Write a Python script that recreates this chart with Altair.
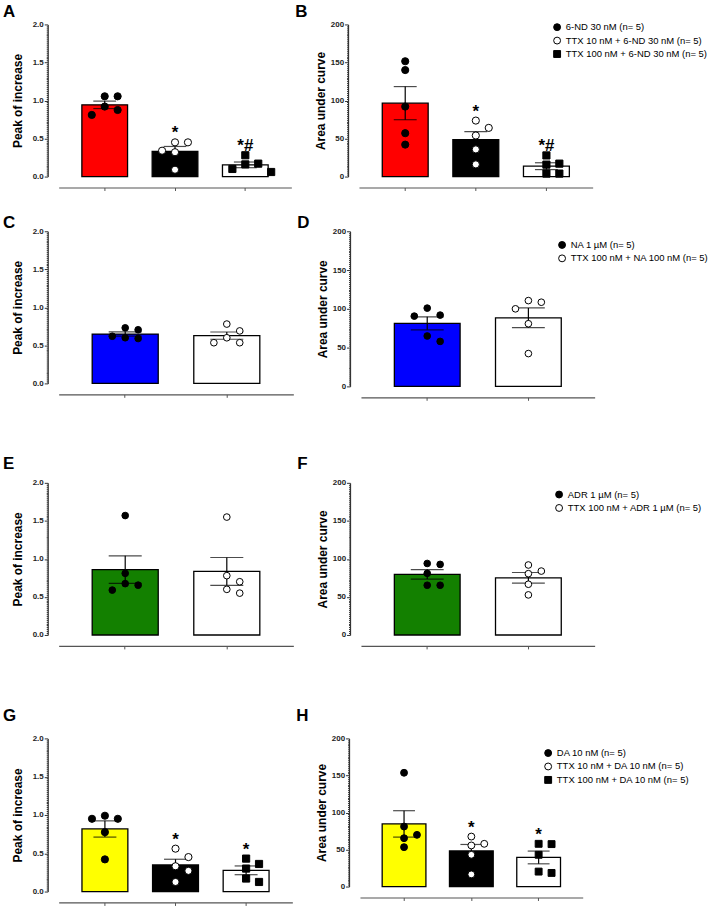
import json
import numpy as np
import pandas as pd
import altair as alt

FONT = "Liberation Sans"

# ---------------- data ----------------
nd_groups = ["6-ND 30 nM (n= 5)", "TTX 10 nM + 6-ND 30 nM (n= 5)", "TTX 100 nM + 6-ND 30 nM (n= 5)"]
nd_peak = [[1.055, 1.055, 0.92, 0.875, 0.81], [0.45, 0.45, 0.34, 0.32, 0.09], [0.28, 0.17, 0.16, 0.10, 0.06]]
nd_auc = [[151.6, 140.0, 92.0, 57.0, 42.0], [73.6, 64.0, 54.0, 35.7, 16.0], [27.8, 15.7, 17.0, 3.9, 3.9]]
nd_sig = ["", "*", "*#"]

na_groups = ["NA 1 µM (n= 5)", "TTX 100 nM + NA 100 nM (n= 5)"]
na_peak = [[0.73, 0.705, 0.62, 0.60, 0.59], [0.78, 0.69, 0.60, 0.535, 0.535]]
na_auc = [[100.9, 91.9, 90.6, 65.0, 58.0], [110.6, 108.5, 100.0, 80.8, 42.3]]
na_sig = ["", ""]

adr_groups = ["ADR 1 µM  (n= 5)", "TTX 100 nM + ADR 1 µM (n= 5)"]
adr_peak = [[1.57, 0.81, 0.675, 0.655, 0.59], [1.55, 0.78, 0.70, 0.60, 0.55]]
adr_auc = [[94.0, 92.8, 81.0, 65.4, 65.4], [92.0, 84.0, 80.6, 66.7, 52.7]]
adr_sig = ["", ""]

da_groups = ["DA 10 nM (n= 5)", "TTX 10 nM + DA 10 nM (n= 5)", "TTX 100 nM + DA 10 nM (n= 5)"]
da_peak = [[0.99, 0.95, 0.95, 0.775, 0.42], [0.56, 0.45, 0.33, 0.27, 0.125], [0.43, 0.36, 0.30, 0.17, 0.125]]
da_auc = [[153.6, 81.0, 69.8, 65.3, 53.2], [67.5, 57.7, 55.5, 42.9, 16.4], [57.7, 57.3, 42.9, 20.2, 18.4]]
da_sig = ["", "*", "*"]

peak_ticks = [0.0, 0.5, 1.0, 1.5, 2.0]
auc_ticks = [0, 50, 100, 150, 200]
peak_title = "Peak of increase"
auc_title = "Area under curve"

# ---------------- styles ----------------
BAR_RED = ["#ff0000", "#000000", "#ffffff"]
BAR_BLUE = ["#0000ff", "#ffffff"]
BAR_GREEN = ["#138000", "#ffffff"]
BAR_YELLOW = ["#ffff00", "#000000", "#ffffff"]
PT_FILL3 = ["black", "white", "black"]
PT_SHAPE3 = ["circle", "circle", "square"]
PT_FILL2 = ["black", "white"]
PT_SHAPE2 = ["circle", "circle"]
AXC = "#333333"


def swarm(vals, px_per_unit, thr=8.5):
    order = sorted(range(len(vals)), key=lambda i: -vals[i])
    placed = []
    slots = [0] * len(vals)
    for i in order:
        y = vals[i] * px_per_unit
        chosen = 0
        for s in [0, 1, -1, 2, -2, 3, -3]:
            if all(not (ps == s and abs(py - y) < thr) for ps, py in placed):
                chosen = s
                break
        placed.append((chosen, y))
        slots[i] = chosen
    return slots


def panel(letter, groups, series, sig, bar_fill, pt_fill, pt_shape, kind, w, h,
          title_dx, title_offset, pt_size, legend_xy=None, step=13):
    peak = kind == "peak"
    ticks = peak_ticks if peak else auc_ticks
    ymax = ticks[-1]
    minor = [i / 40 for i in range(81)] if peak else [i * 2.5 for i in range(81)]
    fmt = ".1f" if peak else "d"
    test = f"indexof({json.dumps(ticks)}, datum.value) >= 0"
    ppu = h / ymax

    rows, summ = [], []
    for g, vals, s, bf in zip(groups, series, sig, bar_fill):
        sl = swarm(vals, ppu)
        for v, k in zip(vals, sl):
            rows.append({"group": g, "value": v, "slot": k})
        arr = np.array(vals)
        m = float(arr.mean())
        se = float(arr.std(ddof=1) / np.sqrt(len(arr)))
        summ.append({"group": g, "mean": m, "lo": m - se, "hi": m + se,
                     "top": float(arr.max()), "sig": s, "barfill": bf})
    pts = pd.DataFrame(rows)
    sm = pd.DataFrame(summ)

    xaxis = alt.Axis(labels=False, title=None, ticks=True, tickSize=3, offset=11,
                     domainColor="#555555", domainWidth=1.2, tickColor="#555555",
                     tickWidth=1, grid=False)
    xenc = alt.X("group:N", sort=groups, title=None,
                 scale=alt.Scale(domain=groups, paddingInner=0.35, paddingOuter=0.33),
                 axis=xaxis)
    yaxis = alt.Axis(values=minor, labelOverlap=False, grid=False, offset=11,
                     labelExpr=f"{test} ? format(datum.value, '{fmt}') : ''",
                     tickSize={"condition": {"test": test, "value": 3.5}, "value": 1.5},
                     tickColor=AXC, domainColor=AXC, domainWidth=1.2, tickWidth=1,
                     labelFont=FONT, labelFontSize=8, labelFontWeight="bold",
                     labelColor="#222222", labelPadding=1,
                     title=peak_title if peak else auc_title, titleFont=FONT,
                     titleFontSize=12, titleFontWeight="bold", titleColor="black",
                     titlePadding=8 if peak else 3)
    yscale = alt.Scale(domain=[0, ymax], nice=False)

    def Y(field):
        return alt.Y(f"{field}:Q", scale=yscale, axis=yaxis)

    bars = alt.Chart(sm).mark_bar(stroke="black", strokeWidth=1.3).encode(
        x=xenc, y=Y("mean"), color=alt.Color("barfill:N", scale=None))
    err = alt.Chart(sm).mark_rule(color="black", strokeWidth=1.2).encode(
        x=xenc, y=Y("lo"), y2="hi:Q")
    bw = w / (len(groups) - 0.35 + 0.66) * 0.65
    cap_hi = alt.Chart(sm).mark_tick(color="black", thickness=1.2, size=bw * 0.5).encode(
        x=xenc, y=Y("hi"))
    cap_lo = alt.Chart(sm).mark_tick(color="black", thickness=1.2, size=bw * 0.5).encode(
        x=xenc, y=Y("lo"))

    if legend_xy is not None:
        leg = alt.Legend(orient="none", legendX=legend_xy[0], legendY=legend_xy[1],
                         title=None, labelFont=FONT, labelFontSize=9.5, labelColor="black",
                         symbolSize=48, symbolStrokeWidth=1,
                         rowPadding=1.5, labelOffset=4, padding=0)
    else:
        leg = None
    pts_layer = alt.Chart(pts).mark_point(
        filled=True, size=pt_size, strokeWidth=1, opacity=1,
        xOffset=alt.expr(f"datum.slot * {step}")).encode(
        x=xenc, y=Y("value"),
        fill=alt.Fill("group:N", scale=alt.Scale(domain=groups, range=pt_fill), legend=leg),
        stroke=alt.Stroke("group:N", scale=alt.Scale(domain=groups, range=["black"] * len(groups)),
                          legend=leg),
        shape=alt.Shape("group:N", scale=alt.Scale(domain=groups, range=pt_shape), legend=leg))
    txt = alt.Chart(sm).mark_text(font=FONT, fontSize=17, fontWeight="bold", dy=-9,
                                  baseline="middle", color="black").encode(
        x=xenc, y=Y("top"), text="sig:N")

    return alt.layer(bars, err, cap_hi, cap_lo, pts_layer, txt).properties(
        width=w, height=h,
        title=alt.TitleParams(text=letter, anchor="start", frame="group", dx=title_dx,
                              offset=title_offset, fontSize=17, fontWeight="bold",
                              font=FONT, color="black"))


RES = dict(fill="independent", shape="independent", stroke="independent")


def row(a, b):
    return alt.hconcat(a, b, spacing=4).resolve_scale(**RES).resolve_legend(**RES)


A = panel("A", nd_groups, nd_peak, nd_sig, BAR_RED, PT_FILL3, PT_SHAPE3, "peak",
          234, 153, -56, -1, 52)
B = panel("B", nd_groups, nd_auc, nd_sig, BAR_RED, PT_FILL3, PT_SHAPE3, "auc",
          235, 153, -64, -1, 52, legend_xy=(194.5, -2))
C = panel("C", na_groups, na_peak, na_sig, BAR_BLUE, PT_FILL2, PT_SHAPE2, "peak",
          236, 153, -56, -5, 45)
D = panel("D", na_groups, na_auc, na_sig, BAR_BLUE, PT_FILL2, PT_SHAPE2, "auc",
          235, 156, -64, -5, 45, legend_xy=(197.5, 9))
E = panel("E", adr_groups, adr_peak, adr_sig, BAR_GREEN, PT_FILL2, PT_SHAPE2, "peak",
          236, 153, -56, 6, 45)
F = panel("F", adr_groups, adr_auc, adr_sig, BAR_GREEN, PT_FILL2, PT_SHAPE2, "auc",
          235, 153, -64, 6, 45, legend_xy=(194.5, 7))
G = panel("G", da_groups, da_peak, da_sig, BAR_YELLOW, PT_FILL3, PT_SHAPE3, "peak",
          235, 154, -56, 9, 52)
H = panel("H", da_groups, da_auc, da_sig, BAR_YELLOW, PT_FILL3, PT_SHAPE3, "auc",
          224, 149, -64, 9, 48, legend_xy=(184.5, 10))


def stack(top, bottom, sp):
    return alt.vconcat(top, bottom, spacing=sp).resolve_scale(**RES).resolve_legend(**RES)


chart = stack(stack(stack(row(A, B), row(C, D), 23), row(E, F), 54), row(G, H), 58)
chart = chart.properties(
    padding={"left": 3, "top": 1, "right": 0, "bottom": 0},
    background="white",
).configure_view(stroke=None)

chart.save("out.html", embed_options={"renderer": "svg", "actions": False})
